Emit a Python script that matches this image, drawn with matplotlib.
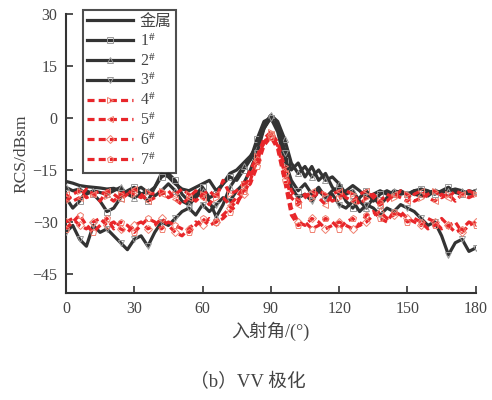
import numpy as np
import matplotlib
matplotlib.use("Agg")
import matplotlib.pyplot as plt

plt.rcParams["font.family"] = ["Liberation Serif", "Noto Sans CJK SC", "DejaVu Sans"]
plt.rcParams["mathtext.fontset"] = "stix"

# incidence angle, 3 degree steps
angle = np.arange(0, 181, 3)

metal = [-18.3, -18.8, -19.5, -19.8, -20, -20.2, -20.5, -20.3, -21, -22, -21, -20, -21.5, -20, -16, -17,
         -19, -20.5, -21, -20, -19, -18, -21, -19, -16, -15, -13, -11, -8, -3, 0.5, -2, -9, -15, -13, -17,
         -14, -18, -16, -20, -22, -21, -19.5, -21, -23, -22, -21, -22, -21.5, -22, -21.5, -22, -22.5, -21.5,
         -21, -21.5, -20.5, -21, -22, -21.5, -22]
s1 = [-23, -26, -24, -21, -22, -24, -27, -26, -23, -21, -20, -22, -24, -20, -17, -16, -18, -22, -24, -22,
      -20, -23, -22, -19, -17, -18, -15, -12, -6, -1, 0, -4, -12, -18, -21, -19, -22, -20, -23, -21, -20,
      -24, -26, -23, -21, -24, -22, -21, -22, -21, -22, -21, -20.5, -21, -22, -21, -20, -21.5, -22, -21, -21.5]
s2 = [-20, -21, -20.5, -22, -21, -21.5, -22, -21, -20, -22, -23, -22, -21, -22.5, -21, -19, -21, -24, -25,
      -23, -21, -24, -28.5, -25, -20, -17, -14, -12, -9, -2, 0.8, -1, -6, -13, -16, -14, -17, -15, -18, -17,
      -19, -22, -21, -24, -26, -23, -25, -23, -21, -21.5, -22, -21, -22, -22.5, -21, -21.5, -21, -20.5, -21,
      -22, -21]
s3 = [-33, -31, -35, -37, -31, -33, -32, -34, -36, -38, -35, -34, -37, -33, -30, -31, -29, -27, -26, -28,
      -25, -27, -25, -23, -24, -21, -19, -15, -10, -3, 0, -3, -10, -20, -23, -22, -24, -21, -23, -22, -25,
      -26, -24, -27, -25, -26, -28, -26, -27, -25, -26, -27, -29, -31, -30, -34, -39.5, -36, -35, -38.5, -37.5]
s4 = [-24, -22, -21, -23, -22, -21, -22.5, -24, -22, -21, -22, -23, -21.5, -22, -21, -23, -22, -20.5, -22,
      -24, -22, -21, -23, -18, -22, -21, -19, -15, -11, -6, -4, -7, -14, -21, -24, -22, -23, -21, -22, -24,
      -23, -21, -22, -25, -23, -22, -24, -22, -23, -21, -22, -24, -23, -22, -21, -23, -22, -24, -22, -21, -22]
s5 = [-22, -24, -23, -20.5, -22, -24, -21, -22, -23.5, -22, -20.5, -22, -24, -23, -22, -21, -23.5, -25, -23,
      -21, -23, -25, -22, -23, -25, -23, -20, -17, -12, -7, -4.5, -8, -16, -23, -25, -23, -21, -23, -25, -22,
      -21, -23, -24, -22, -21, -23, -25, -24, -22, -23, -24, -22, -21, -23, -24, -22, -23, -21, -22, -23, -22]
s6 = [-30, -29, -31, -32, -30, -29, -31, -30, -32, -33, -31, -30, -32, -31, -29, -31, -33, -34, -32, -30,
      -31, -29, -30, -28, -26, -24, -22, -18, -12, -7, -5, -8, -16, -26, -30, -31, -29, -30, -32, -31, -30,
      -31, -32, -31, -30, -28, -27, -29, -28, -27, -29, -30, -31, -29, -30, -32, -31, -30, -33, -31, -30]
s7 = [-32, -30, -28, -31, -33, -31, -29, -32, -30, -31, -33, -31, -29, -30, -32, -30, -31, -32, -33, -31,
      -29, -31, -30, -29, -27, -25, -21, -19, -14, -8, -5.5, -9, -18, -28, -31, -30, -32, -31, -29, -30, -32,
      -30, -29, -31, -28, -27, -29, -30, -27, -28, -30, -29, -30, -32, -31, -29, -31, -33, -32, -30, -31]

labels = ["金属", r"1$^{\#}$", r"2$^{\#}$", r"3$^{\#}$", r"4$^{\#}$", r"5$^{\#}$", r"6$^{\#}$", r"7$^{\#}$"]
series = [metal, s1, s2, s3, s4, s5, s6, s7]
markers = [None, "s", "^", "v", ">", "<", "D", "p"]

BLACK = "#333333"
RED = "#e8262a"

fig = plt.figure(figsize=(4.92, 4.0), dpi=100)
ax = fig.add_axes([0.134, 0.2675, 0.833, 0.6975])

for i, (vals, lab, mk) in enumerate(zip(series, labels, markers)):
    if i < 4:
        ax.plot(angle, vals, color=BLACK, lw=2.3, ls="-", marker=mk, ms=4.5, mfc="none",
                mec="#999999", mew=0.7, markevery=2, label=lab, zorder=3)
    else:
        ax.plot(angle, vals, color=RED, lw=2.3, ls=(0, (2.2, 1.3)), marker=mk, ms=4.5, mfc="none",
                mec="#f08070", mew=0.7, markevery=2, label=lab, zorder=4)

ax.set_xlim(0, 180)
ax.set_ylim(-50.5, 30)
ax.set_xticks(range(0, 181, 30))
ax.set_yticks(range(-45, 31, 15))
for side in ("top", "right"):
    ax.spines[side].set_visible(False)
for side in ("left", "bottom"):
    ax.spines[side].set_color("#333333")
    ax.spines[side].set_linewidth(1.5)
ax.tick_params(direction="in", length=5, width=1.2, color="#333333", labelsize=11.5,
               labelcolor="#444444", pad=6)

ax.set_xlabel("入射角/(°)", fontsize=13, color="#444444", labelpad=3)
ax.set_ylabel("RCS/dBsm", fontsize=12.5, color="#444444", labelpad=2)

leg = ax.legend(loc="upper left", bbox_to_anchor=(83 / 492, 1 - 10 / 400),
                bbox_transform=fig.transFigure, fontsize=11.5, frameon=True, fancybox=False,
                handlelength=2.9, labelspacing=0.2, borderpad=0.25, handletextpad=0.4,
                borderaxespad=0)
leg.get_frame().set_edgecolor("#222222")
leg.get_frame().set_linewidth(1.5)
for t in leg.get_texts():
    t.set_color("#444444")

fig.text(248 / 492, 1 - 382 / 400, "（b）VV 极化", ha="center", va="center",
         fontsize=13.5, color="#444444")

fig.savefig("out.png", dpi=100)
